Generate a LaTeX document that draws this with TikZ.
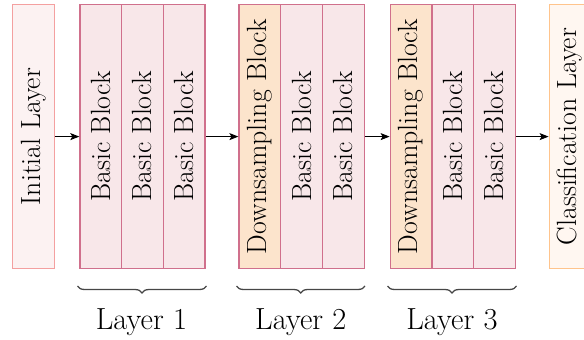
\documentclass[tikz,border=0pt]{standalone}
\usetikzlibrary{arrows.meta,decorations.pathreplacing}
\definecolor{initfill}{RGB}{252,242,242}
\definecolor{initdraw}{RGB}{244,160,160}
\definecolor{basicfill}{RGB}{248,231,233}
\definecolor{basicdraw}{RGB}{208,112,140}
\definecolor{downfill}{RGB}{252,228,204}
\definecolor{clsfill}{RGB}{255,247,241}
\definecolor{clsdraw}{RGB}{255,196,140}
\definecolor{bracecol}{RGB}{70,70,70}
\tikzset{
  blk/.style={minimum width=41.7pt, minimum height=264pt, inner sep=0pt, line width=1.2pt, anchor=north west,
    font=\fontsize{27.5}{33}\selectfont},
  initblk/.style={blk, draw=initdraw, fill=initfill},
  basicblk/.style={blk, draw=basicdraw, fill=basicfill},
  downblk/.style={blk, draw=basicdraw, fill=downfill},
  clsblk/.style={blk, draw=clsdraw, fill=clsfill},
  vtext/.style={rotate=90, font=\fontsize{27.8}{33}\selectfont},
  conn/.style={-{Stealth[length=9pt,width=7pt,inset=2pt]}, line width=0.9pt},
  brc/.style={decorate, decoration={brace, mirror, amplitude=7pt}, line width=1.3pt, draw=bracecol},
  lbl/.style={font=\fontsize{30.5}{36}\selectfont, anchor=base, inner sep=0pt}
}
\begin{document}
\begin{tikzpicture}[x=1pt,y=-1pt]
\useasboundingbox (0,0) rectangle (584,340);
% boxes
\node[initblk] (init) at (12,4) {};
\node[vtext] at (init.center) {Initial Layer};
\node[basicblk] (b11) at (79.3,4) {};
\node[basicblk] (b12) at (121.0,4) {};
\node[basicblk] (b13) at (162.7,4) {};
\node[downblk] (d2) at (238.4,4) {};
\node[basicblk] (b22) at (280.1,4) {};
\node[basicblk] (b23) at (321.8,4) {};
\node[downblk] (d3) at (389.6,4) {};
\node[basicblk] (b32) at (431.3,4) {};
\node[basicblk] (b33) at (473.0,4) {};
\node[clsblk] (cls) at (548.6,4) {};
\foreach \n in {b11,b12,b13,b22,b23,b32,b33}
  \node[vtext] at (\n.center) {Basic Block};
\node[vtext] at (d2.center) {Downsampling Block};
\node[vtext] at (d3.center) {Downsampling Block};
\node[vtext] at (cls.center) {Classification Layer};
% arrows
\draw[conn] (init.east) -- (b11.west);
\draw[conn] (b13.east) -- (d2.west);
\draw[conn] (b23.east) -- (d3.west);
\draw[conn] (b33.east) -- (cls.west);
% braces
\coordinate (l1a) at (77.5,286);
\coordinate (l1b) at (206.5,286);
\coordinate (l2a) at (236.5,286);
\coordinate (l2b) at (365,286);
\coordinate (l3a) at (387.5,286);
\coordinate (l3b) at (516.5,286);
\draw[brc] (l1a) -- (l1b);
\draw[brc] (l2a) -- (l2b);
\draw[brc] (l3a) -- (l3b);
\node[lbl] (lab1) at (141.5,329) {Layer 1};
\node[lbl] (lab2) at (300.8,329) {Layer 2};
\node[lbl] (lab3) at (452,329) {Layer 3};
\end{tikzpicture}
\end{document}
